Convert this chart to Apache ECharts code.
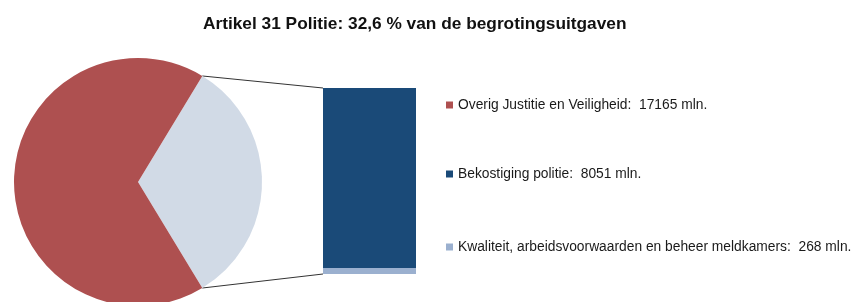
<!DOCTYPE html>
<html>
<head>
<meta charset="utf-8">
<script src="https://cdn.jsdelivr.net/npm/echarts@6/dist/echarts.min.js"></script>
<style>
  html, body { margin: 0; padding: 0; background: #fff; }
  #chart { width: 854px; height: 302px; }
</style>
</head>
<body>
<div id="chart"></div>
<script>
const title = 'Artikel 31 Politie: 32,6 % van de begrotingsuitgaven'
const pieNames = ['Politie', 'Overig Justitie en Veiligheid']
const barNames = ['Kwaliteit, arbeidsvoorwaarden en beheer meldkamers', 'Bekostiging politie']
const barValues = [268, 8051]
const overigValue = 17165

const colors = {
  overig: '#ae5050',
  politie: '#d1dae6',
  bekostiging: '#1a4a78',
  kwaliteit: '#9bb0cf'
}

const politieTotal = barValues[0] + barValues[1]
const share = politieTotal / (politieTotal + overigValue)
const halfAngle = share * 180

const pieCenter = [138, 182]
const pieRadius = 124

const chart = echarts.init(document.getElementById('chart'))

const legendFont = { fontFamily: 'Liberation Sans, Arial', fontSize: 13.8, color: '#1a1a1a' }

function legendFor(name, top) {
  return {
    data: [name],
    left: 446,
    top: top,
    icon: 'rect',
    itemWidth: 7,
    itemHeight: 7,
    itemGap: 0,
    padding: 0,
    textStyle: legendFont,
    formatter: (n) => {
      if (n === pieNames[1]) return n + ':  ' + overigValue + ' mln.'
      const i = barNames.indexOf(n)
      return n + ':  ' + barValues[i] + ' mln.'
    },
    selectedMode: false
  }
}

chart.setOption({
  animation: false,
  title: {
    text: title,
    left: 198,
    top: 11,
    textStyle: { fontFamily: 'Liberation Sans, Arial', fontSize: 17.3, fontWeight: 'bold', color: '#111' }
  },
  legend: [
    legendFor(pieNames[1], 98),
    legendFor(barNames[1], 167),
    legendFor(barNames[0], 240)
  ],
  grid: { left: 323, top: 88, width: 93, height: 186 },
  xAxis: { type: 'category', data: ['politie'], show: false },
  yAxis: { type: 'value', min: 0, max: politieTotal, show: false },
  series: [
    {
      type: 'pie',
      center: pieCenter,
      radius: pieRadius,
      startAngle: halfAngle,
      clockwise: true,
      label: { show: false },
      labelLine: { show: false },
      emphasis: { disabled: true },
      data: [
        { name: pieNames[0], value: politieTotal, itemStyle: { color: colors.politie } },
        { name: pieNames[1], value: overigValue, itemStyle: { color: colors.overig } }
      ]
    },
    {
      name: barNames[0],
      type: 'bar',
      stack: 'p',
      barWidth: '100%',
      data: [barValues[0]],
      itemStyle: { color: colors.kwaliteit }
    },
    {
      name: barNames[1],
      type: 'bar',
      stack: 'p',
      barWidth: '100%',
      data: [barValues[1]],
      itemStyle: { color: colors.bekostiging }
    }
  ]
})

// connector lines from pie slice edge to bar top/bottom
const rad = halfAngle * Math.PI / 180
const pTop = [pieCenter[0] + pieRadius * Math.cos(rad), pieCenter[1] - pieRadius * Math.sin(rad)]
const pBot = [pieCenter[0] + pieRadius * Math.cos(rad), pieCenter[1] + pieRadius * Math.sin(rad)]
const barLeftTop = chart.convertToPixel({ gridIndex: 0 }, [0, politieTotal])
const barLeftBot = chart.convertToPixel({ gridIndex: 0 }, [0, 0])
const barLeftX = chart.getModel().getComponent('grid').coordinateSystem.getRect().x

chart.setOption({
  graphic: [
    { type: 'line', shape: { x1: pTop[0], y1: pTop[1], x2: barLeftX, y2: barLeftTop[1] }, style: { stroke: '#333', lineWidth: 1 } },
    { type: 'line', shape: { x1: pBot[0], y1: pBot[1], x2: barLeftX, y2: barLeftBot[1] }, style: { stroke: '#333', lineWidth: 1 } }
  ]
})
</script>
</body>
</html>
